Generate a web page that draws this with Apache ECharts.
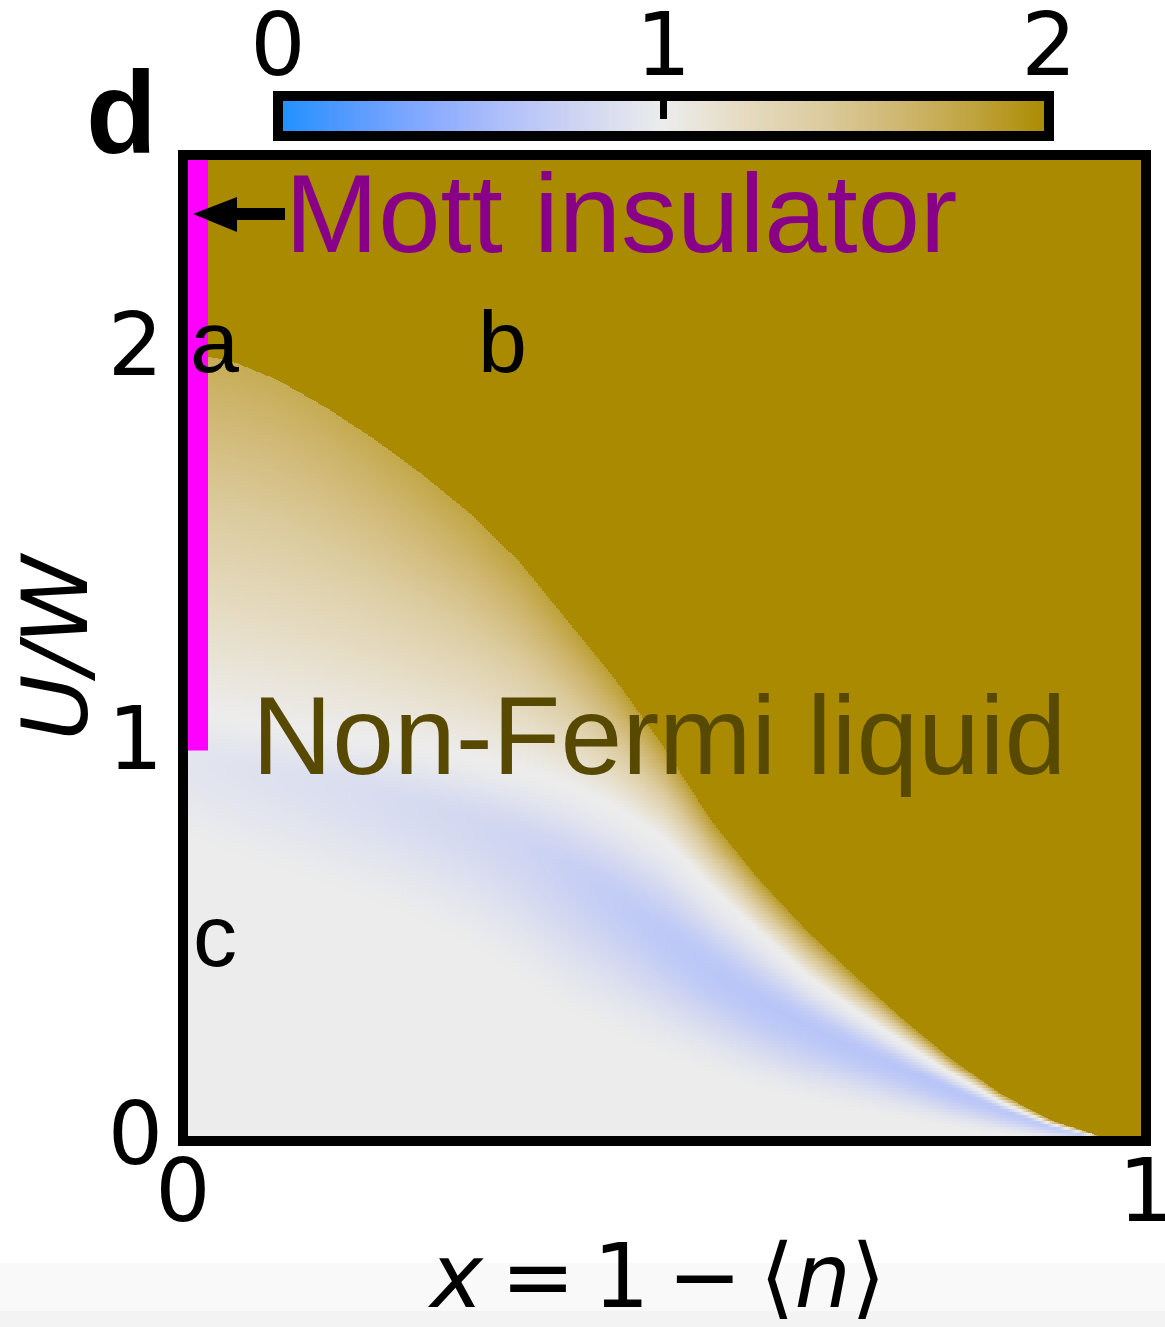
<!DOCTYPE html>
<html><head><meta charset="utf-8">
<script src="https://cdn.jsdelivr.net/npm/echarts@6/dist/echarts.min.js"></script>
<style>html,body{margin:0;padding:0;background:#fff}#c{width:1165px;height:1327px}</style>
</head><body><div id="c"></div>
<script>
// ---------------- data ----------------
const xTickLabels = [0, 1];
const uTickLabels = [0, 1, 2];
const colorbarTicks = [0, 1, 2];
// columns x = 1 - <n>
const xs      = [0, 0.05, 0.10, 0.15, 0.20, 0.25, 0.30, 0.35, 0.40, 0.45, 0.50, 0.55, 0.60, 0.65, 0.70, 0.75, 0.80, 0.85, 0.90, 0.95, 1.00];
// U/W where the flat gold (value 2) region begins
const edgeU   = [2.00, 1.98, 1.93, 1.86, 1.78, 1.69, 1.59, 1.47, 1.32, 1.17, 1.00, 0.81, 0.66, 0.53, 0.415, 0.305, 0.205, 0.12, 0.055, 0.015, 0];
// value just below the gold edge
const edgeV   = [1.72, 1.72, 1.72, 1.73, 1.75, 1.77, 1.79, 1.81, 1.83, 1.85, 1.86, 1.87, 1.88, 1.88, 1.88, 1.88, 1.88, 1.88, 1.88, 1.88, 1.88];
// U/W of the whitish (value 1) line under the tan zone
const whiteU  = [1.10, 1.08, 1.06, 1.04, 1.02, 1.00, 0.98, 0.95, 0.91, 0.85, 0.77, 0.645, 0.53, 0.42, 0.33, 0.25, 0.17, 0.10, 0.047, 0.012, 0];
// U/W of the centre of the blue band and its value there
const blueU   = [0.97, 0.95, 0.93, 0.905, 0.88, 0.85, 0.81, 0.76, 0.69, 0.61, 0.52, 0.43, 0.355, 0.29, 0.235, 0.18, 0.128, 0.08, 0.038, 0.008, 0];
const blueMin = [0.93, 0.91, 0.89, 0.87, 0.85, 0.83, 0.81, 0.78, 0.74, 0.70, 0.67, 0.65, 0.64, 0.64, 0.64, 0.64, 0.64, 0.66, 0.69, 0.78, 0.90];
// U/W below which the blue tint has faded back to grey
const lowU    = [0.75, 0.70, 0.66, 0.62, 0.58, 0.53, 0.47, 0.39, 0.30, 0.25, 0.20, 0.16, 0.12, 0.09, 0.07, 0.05, 0.03, 0.015, 0.005, 0, 0];
// Mott insulator line at x = 0
const mottX = 0;
const mottU = [1, 2.5];
// colour scale 0 .. 2
const colormap = ['#1e90ff', '#5a9bff', '#8aabff', '#b2c1f9', '#d2d7f1', '#ececec', '#e6dcc4', '#dccca0', '#d0b874', '#c0a440', '#aa8a00'];

// ---------------- build the cell table for the library ----------------
const UMAX = 2.5, NX = 482, DU = 0.0075;
function interp(arr, x) {
  let k = 0;
  while (k < xs.length - 2 && x > xs[k + 1]) k++;
  const t = (x - xs[k]) / (xs[k + 1] - xs[k]);
  return arr[k] + (arr[k + 1] - arr[k]) * t;
}
function smooth(t) { t = Math.max(0, Math.min(1, t)); return t * t * (3 - 2 * t); }
function val(u, K) {
  if (u >= K.E) return 2;
  if (u >= K.W) return 1 + (K.EV - 1) * (u - K.W) / Math.max(1e-6, K.E - K.W);
  if (u >= K.B) return K.BM + (1 - K.BM) * smooth((u - K.B) / Math.max(1e-6, K.W - K.B));
  if (u >= K.L) return 1 + (K.BM - 1) * smooth((u - K.L) / Math.max(1e-6, K.B - K.L));
  return 1;
}
const cells = [];
for (let i = 0; i < NX; i++) {
  const x0 = i / NX, x1 = (i + 1) / NX, xc = (x0 + x1) / 2;
  const K = { E: interp(edgeU, xc), EV: interp(edgeV, xc), W: interp(whiteU, xc), B: interp(blueU, xc), BM: interp(blueMin, xc), L: interp(lowU, xc) };
  for (let j = 0; j * DU < K.E; j++) {
    const u0 = j * DU, u1 = Math.min((j + 1) * DU, K.E);
    cells.push([x0, x1, u0, u1, val((u0 + u1) / 2, K)]);
  }
  cells.push([x0, x1, K.E, UMAX, 2]);
}
const cbCells = [];
const NCB = 256;
for (let i = 0; i < NCB; i++) {
  const a = 2 * i / NCB, b = 2 * (i + 1) / NCB;
  cbCells.push([a, b, 0, 1, (a + b) / 2]);
}

function rectItem(params, api) {
  const p0 = api.coord([api.value(0), api.value(3)]);
  const p1 = api.coord([api.value(1), api.value(2)]);
  const x = Math.floor(p0[0]), y = Math.floor(p0[1]);
  return { type: 'rect', shape: { x: x, y: y, width: Math.ceil(p1[0]) - x, height: Math.ceil(p1[1]) - y }, style: { fill: api.visual('color') } };
}

const frameLine = { show: true, onZero: false, lineStyle: { color: '#000', width: 10, cap: 'square' } };
const tickFont = { fontFamily: 'DejaVu Sans', fontSize: 87, color: '#000' };
const off = { axisTick: { show: false }, axisLabel: { show: false }, splitLine: { show: false } };

const chart = echarts.init(document.getElementById('c'), null, { renderer: 'canvas' });
chart.setOption({
  animation: false,
  backgroundColor: '#fff',
  grid: [
    { left: 183, top: 155, width: 963, height: 986, outerBoundsMode: 'none', containLabel: false },
    { left: 278, top: 96, width: 771, height: 40, outerBoundsMode: 'none', containLabel: false }
  ],
  xAxis: [
    { gridIndex: 0, type: 'value', min: 0, max: 1, interval: 1, position: 'bottom', z: 10, axisLine: frameLine,
      axisTick: { show: false }, splitLine: { show: false },
      axisLabel: Object.assign({ margin: 14, formatter: v => xTickLabels.includes(v) ? String(v) : '' }, tickFont) },
    Object.assign({ gridIndex: 0, type: 'value', min: 0, max: 1, position: 'top', z: 10, axisLine: frameLine }, off),
    { gridIndex: 1, type: 'value', min: 0, max: 2, interval: 1, position: 'top', z: 10, axisLine: frameLine,
      axisTick: { show: true, inside: true, length: 23, lineStyle: { color: '#000', width: 7 } }, splitLine: { show: false },
      axisLabel: Object.assign({ margin: 0, formatter: v => colorbarTicks.includes(v) ? String(v) : '' }, tickFont) },
    Object.assign({ gridIndex: 1, type: 'value', min: 0, max: 2, position: 'bottom', z: 10, axisLine: frameLine }, off)
  ],
  yAxis: [
    { gridIndex: 0, type: 'value', min: 0, max: UMAX, interval: 1, position: 'left', z: 10, axisLine: frameLine,
      axisTick: { show: false }, splitLine: { show: false },
      axisLabel: Object.assign({ margin: 20, padding: [14, 0, 0, 0], formatter: v => uTickLabels.includes(v) ? String(v) : '' }, tickFont) },
    Object.assign({ gridIndex: 0, type: 'value', min: 0, max: UMAX, position: 'right', z: 10, axisLine: frameLine }, off),
    Object.assign({ gridIndex: 1, type: 'value', min: 0, max: 1, position: 'left', z: 10, axisLine: frameLine }, off),
    Object.assign({ gridIndex: 1, type: 'value', min: 0, max: 1, position: 'right', z: 10, axisLine: frameLine }, off)
  ],
  visualMap: { type: 'continuous', show: false, min: 0, max: 2, dimension: 4, seriesIndex: [0, 1], inRange: { color: colormap } },
  series: [
    { type: 'custom', xAxisIndex: 0, yAxisIndex: 0, data: cells, dimensions: ['x0', 'x1', 'u0', 'u1', 'v'],
      encode: { x: [0, 1], y: [2, 3] }, renderItem: rectItem, silent: true, progressive: 0 },
    { type: 'custom', xAxisIndex: 2, yAxisIndex: 2, data: cbCells, dimensions: ['a', 'b', 'c', 'd', 'v'],
      encode: { x: [0, 1], y: [2, 3] }, renderItem: rectItem, silent: true, progressive: 0 },
    { type: 'custom', xAxisIndex: 0, yAxisIndex: 0, data: [[mottX, mottU[0], mottU[1]]], z: 3, silent: true,
      encode: { x: 0, y: [1, 2] },
      renderItem: function (params, api) {
        const top = api.coord([api.value(0), api.value(2)]);
        const bot = api.coord([api.value(0), api.value(1)]);
        return { type: 'rect', shape: { x: top[0], y: top[1], width: 25, height: bot[1] - top[1] + 4 }, style: { fill: '#ff00ff' } };
      } }
  ],
  graphic: [
    { type: 'rect', z: 0, shape: { x: 0, y: 1263, width: 1165, height: 48 }, style: { fill: '#f9f9f9' } },
    { type: 'rect', z: 0, shape: { x: 0, y: 1311, width: 1165, height: 16 }, style: { fill: '#f3f3f3' } },
    { type: 'text', z: 100, x: 86, y: 121, style: { text: 'd', font: 'bold 116px "Liberation Sans"', fill: '#000', textAlign: 'left', textVerticalAlign: 'middle' } },
    { type: 'polygon', z: 100, shape: { points: [[193, 214], [237, 197], [237, 208], [285, 208], [285, 220], [237, 220], [237, 232]] }, style: { fill: '#000' } },
    { type: 'text', z: 100, x: 285, y: 221, style: { text: 'Mott insulator', font: '112px "Liberation Sans"', fill: '#880088', textAlign: 'left', textVerticalAlign: 'middle' } },
    { type: 'text', z: 100, x: 252, y: 743, style: { text: 'Non-Fermi liquid', font: '111px "Liberation Sans"', fill: '#584900', textAlign: 'left', textVerticalAlign: 'middle' } },
    { type: 'text', z: 100, x: 190, y: 348, style: { text: 'a', font: '88px "Liberation Sans"', fill: '#000', textAlign: 'left', textVerticalAlign: 'middle' } },
    { type: 'text', z: 100, x: 478, y: 348, style: { text: 'b', font: '88px "Liberation Sans"', fill: '#000', textAlign: 'left', textVerticalAlign: 'middle' } },
    { type: 'text', z: 100, x: 193, y: 942, style: { text: 'c', font: '88px "Liberation Sans"', fill: '#000', textAlign: 'left', textVerticalAlign: 'middle' } },
    { type: 'text', z: 100, x: 64, y: 648, rotation: Math.PI / 2, style: { text: 'U/W', font: 'italic 90px "DejaVu Sans"', fill: '#000', textAlign: 'center', textVerticalAlign: 'middle' } },
    { type: 'text', z: 100, x: 658, y: 1284, style: { text: '{i|x}\u2009=\u20091\u2009\u2212\u2009\u27E8{i|n}\u27E9', font: '89px "DejaVu Sans"', fill: '#000', textAlign: 'center', textVerticalAlign: 'middle',
      rich: { i: { fontStyle: 'italic', fontFamily: 'DejaVu Sans', fontSize: 89, fill: '#000' } } } }
  ]
});
</script>
</body></html>
